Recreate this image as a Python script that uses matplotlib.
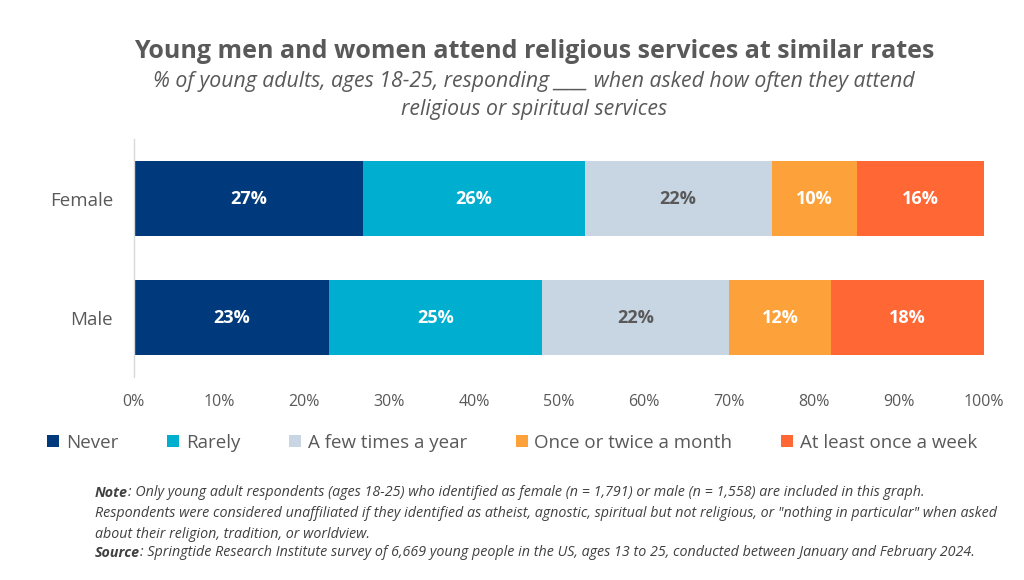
import matplotlib
matplotlib.use("Agg")
import matplotlib.pyplot as plt
from matplotlib.patches import Patch

plt.rcParams['font.family'] = ['Open Sans', 'DejaVu Sans']

# data
groups = ['Female', 'Male']
answers = ['Never', 'Rarely', 'A few times a year', 'Once or twice a month',
           'At least once a week']
female_share = [27, 26, 22, 10, 15]
male_share = [23, 25, 22, 12, 18]
female_labels = [27, 26, 22, 10, 16]
male_labels = [23, 25, 22, 12, 18]
ticks = [0, 10, 20, 30, 40, 50, 60, 70, 80, 90, 100]

colors = ['#003A7D', '#00AECF', '#C8D6E3', '#FDA23A', '#FF6835']
label_colors = ['white', 'white', '#595959', 'white', 'white']
gray = '#595959'

fig = plt.figure(figsize=(10.24, 5.8), dpi=100)
ax = fig.add_axes([0.1306, 0.35, 0.8306, 0.4103])

shares = [female_share, male_share]
labels = [female_labels, male_labels]
ypos = [0, 1]
for i, ans in enumerate(answers):
    vals = [s[i] for s in shares]
    lefts = [sum(s[:i]) for s in shares]
    bars = ax.barh(ypos, vals, left=lefts, height=0.63, color=colors[i],
                   label=ans, linewidth=0)
    ax.bar_label(bars, labels=[f'{l[i]}%' for l in labels], label_type='center',
                 color=label_colors[i], fontsize=13, fontweight='bold')

ax.set_xlim(0, 100)
ax.set_ylim(1.5, -0.5)
ax.set_yticks(ypos)
ax.set_yticklabels(groups, fontsize=13.5, color=gray)
ax.set_xticks(ticks)
ax.set_xticklabels([f'{t}%' for t in ticks], fontsize=11.5, color=gray)
ax.tick_params(length=0)
ax.tick_params(axis='x', pad=12)
ax.tick_params(axis='y', pad=15)
for side in ['top', 'right', 'bottom']:
    ax.spines[side].set_visible(False)
ax.spines['left'].set_color('#D9D9D9')
ax.spines['left'].set_linewidth(1)

# legend
handles = [Patch(facecolor=c, edgecolor='none') for c in colors]
fig.legend(handles, answers, loc='center', bbox_to_anchor=(0.5, 0.237), ncol=5,
           frameon=False, fontsize=13.5, labelcolor=gray, handlelength=0.65,
           handleheight=0.65, handletextpad=0.35, columnspacing=2.6)

# titles
cx = 0.5215
fig.text(cx, 1 - 52 / 580, 'Young men and women attend religious services at similar rates',
         ha='center', va='center', fontsize=18, fontweight='bold', color=gray)
fig.text(cx, 1 - 82 / 580,
         '% of young adults, ages 18-25, responding ____ when asked how often they attend',
         ha='center', va='center', fontsize=15.3, style='italic', color=gray)
fig.text(cx, 1 - 110 / 580, 'religious or spiritual services',
         ha='center', va='center', fontsize=15.3, style='italic', color=gray)

# notes
note_color = '#404040'
nx = 95 / 1024
nfs = 10.25
t1 = fig.text(nx, 1 - 500 / 580, 'Note', fontsize=nfs, style='italic',
              fontweight='bold', color=note_color, va='bottom')
ax.annotate(': Only young adult respondents (ages 18-25) who identified as female (n = 1,791) '
            'or male (n = 1,558) are included in this graph.',
            xy=(1, 0), xycoords=t1, va='bottom', ha='left', fontsize=nfs,
            style='italic', color=note_color)
fig.text(nx, 1 - 521 / 580,
         'Respondents were considered unaffiliated if they identified as atheist, agnostic, '
         'spiritual but not religious, or "nothing in particular" when asked',
         fontsize=nfs, style='italic', color=note_color, va='bottom')
fig.text(nx, 1 - 542 / 580, 'about their religion, tradition, or worldview.',
         fontsize=nfs, style='italic', color=note_color, va='bottom')
t2 = fig.text(nx, 1 - 560 / 580, 'Source', fontsize=nfs, style='italic',
              fontweight='bold', color=note_color, va='bottom')
ax.annotate(': Springtide Research Institute survey of 6,669 young people in the US, '
            'ages 13 to 25, conducted between January and February 2024.',
            xy=(1, 0), xycoords=t2, va='bottom', ha='left', fontsize=nfs,
            style='italic', color=note_color)

fig.savefig('out.png', dpi=100)
